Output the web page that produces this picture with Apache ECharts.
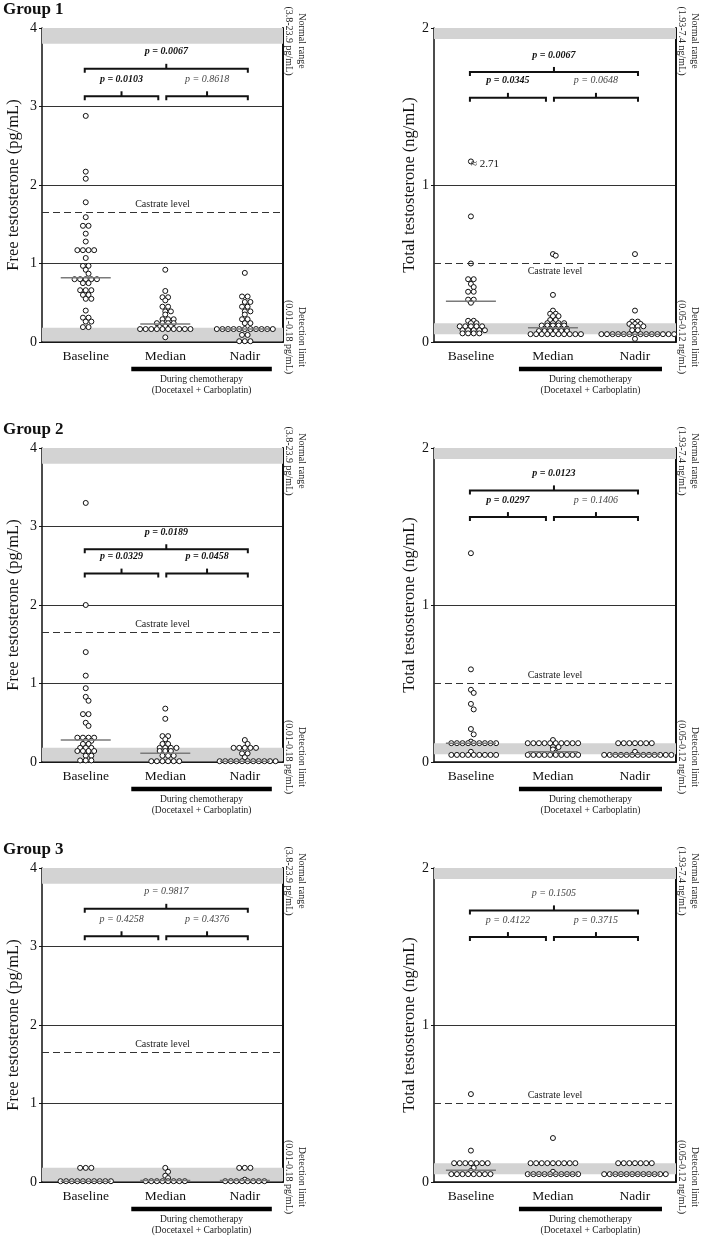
<!DOCTYPE html>
<html>
<head>
<meta charset="utf-8">
<script src="https://cdn.jsdelivr.net/npm/echarts@6/dist/echarts.min.js"></script>
<style>
  html, body { margin: 0; padding: 0; background: #fff; }
  #chart { width: 710px; height: 1240px; }
</style>
</head>
<body>
<div id="chart"></div>
<script>
var categories = ['Baseline', 'Median', 'Nadir'];

// Group 1
var g1FreeBaseline = [2.88, 2.17, 2.08, 1.78, 1.59, 1.48, 1.48, 1.38, 1.28, 1.17, 1.17, 1.17, 1.17, 1.07, 0.97, 0.97, 0.92, 0.87, 0.8, 0.8, 0.8, 0.8, 0.8, 0.75, 0.75, 0.66, 0.66, 0.66, 0.6, 0.6, 0.55, 0.55, 0.4, 0.31, 0.31, 0.26, 0.26, 0.19, 0.19];
var g1FreeMedian = [0.92, 0.65, 0.57, 0.57, 0.53, 0.45, 0.45, 0.39, 0.39, 0.35, 0.29, 0.29, 0.29, 0.24, 0.24, 0.24, 0.24, 0.2, 0.2, 0.165, 0.165, 0.165, 0.165, 0.165, 0.165, 0.165, 0.165, 0.165, 0.165, 0.06];
var g1FreeNadir = [0.88, 0.58, 0.58, 0.51, 0.51, 0.45, 0.45, 0.39, 0.39, 0.35, 0.29, 0.29, 0.24, 0.24, 0.165, 0.165, 0.165, 0.165, 0.165, 0.165, 0.165, 0.165, 0.165, 0.165, 0.165, 0.09, 0.09, 0.01, 0.01, 0.01];
var g1FreeMedians = [0.82, 0.23, 0.165];
var g1FreeP = [0.0103, 0.8618, 0.0067];

var g1TotalBaseline = [2.71, 0.8, 0.5, 0.4, 0.4, 0.37, 0.35, 0.32, 0.32, 0.27, 0.27, 0.25, 0.135, 0.135, 0.12, 0.12, 0.1, 0.1, 0.1, 0.1, 0.1, 0.075, 0.075, 0.075, 0.075, 0.075, 0.055, 0.055, 0.055, 0.055];
var g1TotalMedian = [0.56, 0.55, 0.3, 0.2, 0.18, 0.18, 0.165, 0.165, 0.14, 0.14, 0.12, 0.12, 0.12, 0.12, 0.105, 0.105, 0.105, 0.105, 0.105, 0.085, 0.085, 0.085, 0.085, 0.085, 0.07, 0.07, 0.07, 0.07, 0.07, 0.07, 0.05, 0.05, 0.05, 0.05, 0.05, 0.05, 0.05, 0.05, 0.05, 0.05];
var g1TotalNadir = [0.56, 0.2, 0.13, 0.13, 0.115, 0.115, 0.115, 0.1, 0.1, 0.1, 0.075, 0.075, 0.05, 0.05, 0.05, 0.05, 0.05, 0.05, 0.05, 0.05, 0.05, 0.05, 0.05, 0.05, 0.05, 0.05, 0.02];
var g1TotalMedians = [0.26, 0.09, 0.05];
var g1TotalP = [0.0345, 0.0648, 0.0067];

// Group 2
var g2FreeBaseline = [3.3, 2.0, 1.4, 1.1, 0.94, 0.83, 0.78, 0.61, 0.61, 0.5, 0.46, 0.31, 0.31, 0.31, 0.31, 0.27, 0.27, 0.23, 0.23, 0.18, 0.18, 0.18, 0.14, 0.14, 0.14, 0.14, 0.08, 0.08, 0.02, 0.02, 0.02];
var g2FreeMedian = [0.68, 0.55, 0.33, 0.33, 0.29, 0.23, 0.23, 0.18, 0.18, 0.18, 0.18, 0.14, 0.14, 0.14, 0.08, 0.08, 0.08, 0.01, 0.01, 0.01, 0.01, 0.01, 0.01];
var g2FreeNadir = [0.28, 0.23, 0.18, 0.18, 0.18, 0.18, 0.18, 0.11, 0.11, 0.06, 0.01, 0.01, 0.01, 0.01, 0.01, 0.01, 0.01, 0.01, 0.01, 0.01, 0.01];
var g2FreeMedians = [0.28, 0.11, 0.01];
var g2FreeP = [0.0329, 0.0458, 0.0189];

var g2TotalBaseline = [1.33, 0.59, 0.46, 0.44, 0.37, 0.335, 0.21, 0.176, 0.13, 0.12, 0.12, 0.12, 0.12, 0.12, 0.12, 0.12, 0.12, 0.12, 0.065, 0.045, 0.045, 0.045, 0.045, 0.045, 0.045, 0.045, 0.045, 0.045];
var g2TotalMedian = [0.14, 0.12, 0.12, 0.12, 0.12, 0.12, 0.12, 0.12, 0.12, 0.12, 0.12, 0.095, 0.095, 0.08, 0.06, 0.045, 0.045, 0.045, 0.045, 0.045, 0.045, 0.045, 0.045, 0.045, 0.045];
var g2TotalNadir = [0.12, 0.12, 0.12, 0.12, 0.12, 0.12, 0.12, 0.065, 0.045, 0.045, 0.045, 0.045, 0.045, 0.045, 0.045, 0.045, 0.045, 0.045, 0.045, 0.045, 0.045];
var g2TotalMedians = [0.12, 0.065, 0.05];
var g2TotalP = [0.0297, 0.1406, 0.0123];

// Group 3
var g3FreeBaseline = [0.18, 0.18, 0.18, 0.01, 0.01, 0.01, 0.01, 0.01, 0.01, 0.01, 0.01, 0.01, 0.01];
var g3FreeMedian = [0.18, 0.13, 0.08, 0.05, 0.01, 0.01, 0.01, 0.01, 0.01, 0.01, 0.01, 0.01];
var g3FreeNadir = [0.18, 0.18, 0.18, 0.03, 0.01, 0.01, 0.01, 0.01, 0.01, 0.01, 0.01, 0.01];
var g3FreeMedians = [0.01, 0.02, 0.02];
var g3FreeP = [0.4258, 0.4376, 0.9817];

var g3TotalBaseline = [0.56, 0.2, 0.12, 0.12, 0.12, 0.12, 0.12, 0.12, 0.12, 0.09, 0.07, 0.05, 0.05, 0.05, 0.05, 0.05, 0.05, 0.05, 0.05];
var g3TotalMedian = [0.28, 0.12, 0.12, 0.12, 0.12, 0.12, 0.12, 0.12, 0.12, 0.12, 0.065, 0.05, 0.05, 0.05, 0.05, 0.05, 0.05, 0.05, 0.05, 0.05, 0.05];
var g3TotalNadir = [0.12, 0.12, 0.12, 0.12, 0.12, 0.12, 0.12, 0.05, 0.05, 0.05, 0.05, 0.05, 0.05, 0.05, 0.05, 0.05, 0.05, 0.05, 0.05];
var g3TotalMedians = [0.075, 0.05, 0.05];
var g3TotalP = [0.4122, 0.3715, 0.1505];

var FONT = "'Liberation Serif', 'Times New Roman', serif";
var GRID_TOP = [28, 448, 868];
var GRID_H = 314;
var COLS = [
  { left: 42, width: 241, xMin: -0.55, xMax: 2.48, nameGap: 20 },
  { left: 434, width: 242, xMin: -0.45, xMax: 2.5, nameGap: 16 }
];
var KINDS = {
  free: {
    max: 4, name: 'Free testosterone (pg/mL)', normal: [3.8, 4], detect: [0.01, 0.18],
    castrate: 1.65, normalText: '(3.8-23.9 pg/mL)', detectText: '(0.01-0.18 pg/mL)'
  },
  total: {
    max: 2, name: 'Total testosterone (ng/mL)', normal: [1.93, 2], detect: [0.05, 0.12],
    castrate: 0.5, normalText: '(1.93-7.4 ng/mL)', detectText: '(0.05-0.12 ng/mL)'
  }
};

var panels = [
  { row: 0, col: 0, kind: 'free', values: [g1FreeBaseline, g1FreeMedian, g1FreeNadir], medians: g1FreeMedians, p: g1FreeP, brk: [3.48, 3.13] },
  { row: 0, col: 1, kind: 'total', values: [g1TotalBaseline, g1TotalMedian, g1TotalNadir], medians: g1TotalMedians, p: g1TotalP, brk: [1.72, 1.555], castrateBelow: true, cap: 1.15 },
  { row: 1, col: 0, kind: 'free', values: [g2FreeBaseline, g2FreeMedian, g2FreeNadir], medians: g2FreeMedians, p: g2FreeP, brk: [2.71, 2.40] },
  { row: 1, col: 1, kind: 'total', values: [g2TotalBaseline, g2TotalMedian, g2TotalNadir], medians: g2TotalMedians, p: g2TotalP, brk: [1.73, 1.56] },
  { row: 2, col: 0, kind: 'free', values: [g3FreeBaseline, g3FreeMedian, g3FreeNadir], medians: g3FreeMedians, p: g3FreeP, brk: [3.48, 3.13] },
  { row: 2, col: 1, kind: 'total', values: [g3TotalBaseline, g3TotalMedian, g3TotalNadir], medians: g3TotalMedians, p: g3TotalP, brk: [1.73, 1.56] }
];

var DOT = 5.6;

// dot-plot rows: equal values side by side, centred; a row that touches the
// previous one with the same parity is shifted half a dot
function rowLayout(vals, pxY, d) {
  var groups = {}, keys = [], offs = [], prev = null;
  vals.forEach(function (v, i) {
    var key = v.toFixed(3);
    if (!groups[key]) { groups[key] = []; keys.push(key); }
    groups[key].push(i);
  });
  keys.sort(function (a, b) { return +b - +a; });
  keys.forEach(function (key) {
    var idx = groups[key];
    var n = idx.length;
    var shift = 0;
    if (prev && (prev.v - +key) * pxY < d && prev.n % 2 === n % 2 && prev.shift === 0) shift = d / 2;
    idx.forEach(function (k, j) { offs[k] = (j - (n - 1) / 2) * d + shift; });
    prev = { v: +key, n: n, shift: shift };
  });
  return offs;
}

var grids = [], xAxes = [], yAxes = [], series = [], graphics = [];

panels.forEach(function (pn, p) {
  var c = COLS[pn.col];
  var k = KINDS[pn.kind];
  var top = GRID_TOP[pn.row];
  var pxY = GRID_H / k.max;
  var pxX = c.width / (c.xMax - c.xMin);
  var cap = pn.cap || 99;

  grids.push({ left: c.left, top: top, width: c.width, height: GRID_H, outerBoundsMode: 'none' });

  xAxes.push({
    type: 'value', gridIndex: p, min: c.xMin, max: c.xMax,
    axisLine: { show: true, onZero: false, lineStyle: { color: '#111', width: 1.5 } },
    axisTick: { show: false },
    splitLine: { show: false },
    axisLabel: {
      customValues: [0, 1, 2],
      formatter: function (v) { return categories[Math.round(v)]; },
      fontFamily: FONT, fontSize: 13.5, color: '#111', margin: 7
    }
  });

  yAxes.push({
    type: 'value', gridIndex: p, min: 0, max: k.max, interval: 1,
    name: k.name, nameLocation: 'middle', nameGap: c.nameGap, nameRotate: 90,
    nameTextStyle: { fontFamily: FONT, fontSize: 16.5, color: '#111' },
    axisLine: { show: true, onZero: false, lineStyle: { color: '#111', width: 1.5 } },
    axisTick: { show: true, length: 3, lineStyle: { color: '#111' } },
    axisLabel: { fontFamily: FONT, fontSize: 14, color: '#111', margin: 5 },
    splitLine: { show: true, lineStyle: { color: '#333', width: 1 } }
  });
  yAxes.push({
    type: 'value', gridIndex: p, position: 'right', min: 0, max: k.max,
    axisLine: { show: true, onZero: false, lineStyle: { color: '#111', width: 2 } },
    axisTick: { show: false }, axisLabel: { show: false }, splitLine: { show: false }
  });

  // reference bands + castrate level
  series.push({
    type: 'scatter', xAxisIndex: p, yAxisIndex: 2 * p, z: 1, silent: true,
    data: [],
    markArea: {
      silent: true,
      itemStyle: { color: '#d3d3d3' },
      data: [
        [{ yAxis: k.normal[0] }, { yAxis: k.normal[1] }],
        [{ yAxis: k.detect[0] }, { yAxis: k.detect[1] }]
      ]
    },
    markLine: {
      silent: true, symbol: 'none',
      lineStyle: { color: '#333', width: 1, type: [7, 4] },
      label: {
        show: true, formatter: 'Castrate level',
        position: pn.castrateBelow ? 'insideMiddleBottom' : 'insideMiddleTop',
        distance: 3, fontFamily: FONT, fontSize: 10, color: '#222'
      },
      data: [{ yAxis: k.castrate }]
    }
  });

  // dots
  var pts = [];
  pn.values.forEach(function (vals, ci) {
    var shown = vals.map(function (v) { return Math.min(v, cap); });
    var offs = rowLayout(shown, pxY, DOT);
    vals.forEach(function (v, j) {
      var item = { value: [ci + offs[j] / pxX, shown[j]] };
      if (v > cap) {
        item.label = {
          show: true, position: 'right', distance: 0, offset: [-3, 3],
          formatter: '\u2248 ' + v.toFixed(2), fontFamily: FONT, fontSize: 11, color: '#111'
        };
      }
      pts.push(item);
    });
  });
  series.push({
    type: 'scatter', xAxisIndex: p, yAxisIndex: 2 * p, z: 3,
    symbol: 'circle', symbolSize: 5,
    itemStyle: { color: '#fff', borderColor: '#111', borderWidth: 1, opacity: 1 },
    data: pts
  });

  // median lines
  series.push({
    type: 'custom', xAxisIndex: p, yAxisIndex: 2 * p, z: 4, clip: false,
    data: pn.medians.map(function (m, i) { return [i, m]; }),
    renderItem: function (params, api) {
      var pt = api.coord([api.value(0), api.value(1)]);
      return {
        type: 'line',
        shape: { x1: pt[0] - 25, y1: pt[1], x2: pt[0] + 25, y2: pt[1] },
        style: { stroke: '#7a7a7a', lineWidth: 1.5 }
      };
    }
  });

  // brackets with p-values, chemotherapy bar
  var PAIRS = [[0, 1], [1, 2], [0, 2]];
  series.push({
    type: 'custom', xAxisIndex: p, yAxisIndex: 2 * p, z: 5, clip: false, silent: true,
    data: [[0, 0], [1, 0], [2, 0], [3, 0]],
    renderItem: function (params, api) {
      var i = params.dataIndex;
      if (i < 3) {
        var pair = PAIRS[i];
        var level = i < 2 ? pn.brk[1] : pn.brk[0];
        var a = api.coord([pair[0], level]);
        var b = api.coord([pair[1], level]);
        var x0 = a[0] + (pair[0] === 0 ? -1 : 1);
        var x1 = b[0] + (pair[1] === 1 ? -7 : 3);
        var y = a[1];
        var xm = (x0 + x1) / 2;
        var pv = pn.p[i];
        var bold = pv < 0.05;
        return {
          type: 'group',
          children: [
            { type: 'polyline', shape: { points: [[x0, y + 4], [x0, y], [x1, y], [x1, y + 4]] },
              style: { stroke: '#111', lineWidth: 2, fill: null } },
            { type: 'line', shape: { x1: xm, y1: y, x2: xm, y2: y - 5 },
              style: { stroke: '#111', lineWidth: 2 } },
            { type: 'text', style: {
                text: 'p = ' + pv.toFixed(4), x: xm, y: y - 17, align: 'center', verticalAlign: 'middle',
                fill: bold ? '#111' : '#444',
                font: (bold ? 'italic bold ' : 'italic ') + '10px ' + FONT } }
          ]
        };
      }
      var m = api.coord([1, 0]);
      var n = api.coord([2, 0]);
      var bx0 = m[0] - 34, bx1 = n[0] + 27, by = m[1] + 27;
      var mid = (bx0 + bx1) / 2;
      return {
        type: 'group',
        children: [
          { type: 'rect', shape: { x: bx0, y: by - 2.2, width: bx1 - bx0, height: 4.4 }, style: { fill: '#000' } },
          { type: 'text', style: { text: 'During chemotherapy', x: mid, y: by + 10, align: 'center', verticalAlign: 'middle',
              fill: '#222', font: '9.5px ' + FONT } },
          { type: 'text', style: { text: '(Docetaxel + Carboplatin)', x: mid, y: by + 21, align: 'center', verticalAlign: 'middle',
              fill: '#222', font: '9.5px ' + FONT } }
        ]
      };
    }
  });

  // side labels
  var ax = c.left + c.width;
  [[k.normalText, 'Normal range', top + 13], [k.detectText, 'Detection limit', top + GRID_H - 5]].forEach(function (t) {
    graphics.push({ type: 'text', x: ax + 19, y: t[2], rotation: -Math.PI / 2,
      style: { text: t[1], align: 'center', verticalAlign: 'middle', fill: '#222', font: '10px ' + FONT } });
    graphics.push({ type: 'text', x: ax + 6, y: t[2], rotation: -Math.PI / 2,
      style: { text: t[0], align: 'center', verticalAlign: 'middle', fill: '#222', font: '10px ' + FONT } });
  });

  if (pn.col === 0) {
    graphics.push({ type: 'text', x: 3, y: top - 18, style: {
      text: 'Group ' + (pn.row + 1), align: 'left', verticalAlign: 'middle', fill: '#111', font: 'bold 17px ' + FONT } });
  }
});

var chart = echarts.init(document.getElementById('chart'), null, { renderer: 'canvas' });
chart.setOption({
  animation: false,
  backgroundColor: '#fff',
  grid: grids,
  xAxis: xAxes,
  yAxis: yAxes,
  series: series,
  graphic: graphics
});
</script>
</body>
</html>
